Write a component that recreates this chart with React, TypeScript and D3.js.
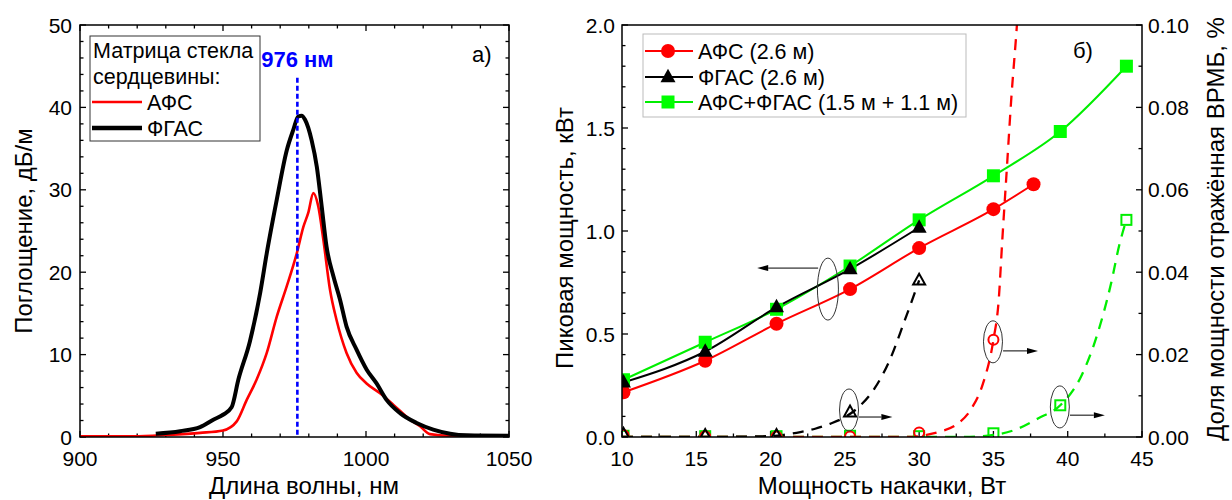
import React from "react";
import * as d3 from "d3";

// ---------- Panel a) absorption spectra ----------
const wavelengthAFS = [900, 918.6, 930.3, 942, 950, 954.8, 958.3, 961.8, 965.3, 968.8, 972.3, 975.8, 978.1, 979.8, 981.6, 983.3, 985.1, 987.4, 989.7, 993.2, 996.7, 1000.2, 1004.9, 1009.6, 1015.4, 1018.9, 1022.4, 1029.4, 1050];
const absorptionAFS = [0.1, 0.1, 0.25, 0.5, 0.8, 1.9, 4.5, 7, 10.2, 14.6, 18.3, 22.3, 25.5, 27.2, 29.6, 28, 23.9, 17.9, 14.2, 10.2, 7.8, 6.5, 5.3, 3.9, 2.1, 1.3, 0.35, 0.15, 0.1];
const wavelengthFGAS = [926.5, 935, 942, 946.6, 950, 953, 955.4, 959.4, 963, 965.3, 968.8, 972.3, 974.6, 976.3, 977.5, 978.7, 981, 982.8, 984.5, 986.2, 988.6, 990.9, 993.2, 996.7, 1000.2, 1003.7, 1007.2, 1011.9, 1017.7, 1023.5, 1029.4, 1035.2, 1050];
const absorptionFGAS = [0.4, 0.7, 1.2, 2.1, 2.7, 3.6, 7, 11.6, 17.5, 22.3, 28.8, 34.8, 37.3, 38.9, 39, 38.5, 36, 32.8, 28, 23.1, 19.5, 16.7, 13.4, 10.6, 8.2, 6.5, 4.5, 2.9, 1.7, 0.9, 0.4, 0.2, 0.15];
const markerWavelength = 976;
const markerTop = 43.6;
const xTicksA = [900, 950, 1000, 1050];
const yTicksA = [0, 10, 20, 30, 40, 50];

// ---------- Panel б) peak power & SBS ----------
const pumpAFS = [10.1, 15.6, 20.4, 25.35, 30.0, 35.0, 37.7];
const peakAFS = [0.217, 0.37, 0.55, 0.718, 0.917, 1.106, 1.227];
const pumpFGAS = [10.1, 15.6, 20.4, 25.35, 30.0];
const peakFGAS = [0.265, 0.415, 0.63, 0.815, 1.017];
const pumpMix = [10.1, 15.6, 20.4, 25.35, 30.0, 35.0, 39.5, 43.95];
const peakMix = [0.278, 0.46, 0.62, 0.83, 1.054, 1.268, 1.483, 1.8];

const sbsAFS = [0.0005, 0.0002, 0.0001, 0.0001, 0.0011, 0.0236];
const sbsFGAS = [0.0006, 0.0003, 0.0003, 0.006, 0.038];
const sbsMix = [0.0003, 0.0002, 0.0002, 0.0003, 0.0002, 0.0009, 0.0077, 0.0527];

const fitFGASx = [10, 15, 20, 21, 22, 23, 24, 25, 26, 27, 28, 29, 30];
const fitFGASy = [0, 0, 0.0002, 0.0006, 0.0012, 0.002, 0.0032, 0.0048, 0.0075, 0.0118, 0.0185, 0.028, 0.038];
const fitAFSx = [10, 20, 29.5, 30.5, 31.5, 32.5, 33.5, 34.3, 35, 35.35, 35.6, 35.9, 36.2, 36.6, 37];
const fitAFSy = [0, 0, 0, 0.0005, 0.0014, 0.003, 0.0068, 0.013, 0.0236, 0.033, 0.048, 0.065, 0.082, 0.101, 0.125];
const fitMixx = [10, 30, 33, 35, 36.5, 38, 39.5, 40.9, 42, 42.9, 43.5, 43.95];
const fitMixy = [0, 0, 0, 0.0005, 0.0018, 0.0045, 0.0077, 0.0147, 0.025, 0.037, 0.047, 0.0527];

const xTicksB = [10, 15, 20, 25, 30, 35, 40, 45];
const yTicksB = [0, 0.5, 1.0, 1.5, 2.0];
const y2TicksB = [0, 0.02, 0.04, 0.06, 0.08, 0.1];

// annotation anchors (data units)
const ellipseLeft = { x: 23.86, y: 0.718 }; // kW axis
const ellipsesRight = [
  { x: 25.28, y: 0.00655 },
  { x: 34.97, y: 0.0231 },
  { x: 39.47, y: 0.0073 },
];
const arrowLeft = { x1: 23.2, x2: 19.1, y: 0.82 };
const arrowsRight = [
  { x1: 25.95, x2: 28.2, y: 0.00485 },
  { x1: 35.65, x2: 38.0, y: 0.0209 },
  { x1: 40.15, x2: 42.5, y: 0.0053 },
];

const FONT = "'Liberation Sans', Arial, sans-serif";
const RED = "#ff0000";
const GREEN = "#00ee00";
const GREENM = "#00ff00";
const TICKFS = 21;
const LABFS = 24;
const LEGFS = 21.5;

function Triangle({ x, y, s, fill, stroke, sw }: any) {
  const h = s * 0.9;
  const pts = `${x},${y - h * 0.62} ${x - s / 2},${y + h * 0.38} ${x + s / 2},${y + h * 0.38}`;
  return <polygon points={pts} fill={fill} stroke={stroke} strokeWidth={sw} />;
}

function Arrow({ x1, x2, y }: any) {
  const dir = x2 > x1 ? 1 : -1;
  const head = 11;
  return (
    <g>
      <line x1={x1} y1={y} x2={x2 - dir * head} y2={y} stroke="#000" strokeWidth={1} />
      <polygon points={`${x2},${y} ${x2 - dir * head},${y - 3} ${x2 - dir * head},${y + 3}`} fill="#000" />
    </g>
  );
}

export default function App() {
  const xA = d3.scaleLinear().domain([900, 1050]).range([80, 509]);
  const yA = d3.scaleLinear().domain([0, 50]).range([437, 25]);
  const xB = d3.scaleLinear().domain([10, 45]).range([622, 1142]);
  const yB = d3.scaleLinear().domain([0, 2]).range([437, 25]);
  const yB2 = d3.scaleLinear().domain([0, 0.1]).range([437, 25]);

  const specLine = d3.line<[number, number]>().x(d => xA(d[0])).y(d => yA(d[1])).curve(d3.curveMonotoneX);
  const pathAFS = specLine(wavelengthAFS.map((w, i) => [w, absorptionAFS[i]] as [number, number]));
  const pathFGAS = specLine(wavelengthFGAS.map((w, i) => [w, absorptionFGAS[i]] as [number, number]));

  const mkLine = (ys: any) => d3.line<[number, number]>().x(d => xB(d[0])).y(d => ys(d[1])).curve(d3.curveMonotoneX);
  const solid = mkLine(yB);
  const dashed = mkLine(yB2);

  const zip = (a: number[], b: number[]) => a.map((v, i) => [v, b[i]] as [number, number]);

  const minorXA = d3.range(900, 1050.1, 10);
  const minorYA = d3.range(0, 50.1, 2);
  const minorXB = d3.range(10, 45.1, 2.5);
  const minorYB = d3.range(0, 2.001, 0.1);
  const minorY2B = d3.range(0, 0.1001, 0.01);

  const tickStyle = { stroke: "#000", strokeWidth: 1.3 };
  const isMajor = (v: number, step: number) => Math.abs(v / step - Math.round(v / step)) < 1e-6;

  return (
    <svg width={1232} height={500} style={{ position: "fixed", left: 0, top: 0, background: "#fff" }} fontFamily={FONT}>
      <defs>
        <clipPath id="clipB">
          <rect x={622} y={25} width={520} height={412} />
        </clipPath>
        <clipPath id="clipA">
          <rect x={80} y={25} width={429} height={412} />
        </clipPath>
      </defs>
      <rect x={0} y={0} width={1232} height={500} fill="#fff" />

      {/* ================= Panel a ================= */}
      <g>
        {minorXA.map(v => {
          const L = isMajor(v, 50) ? 6 : 3.5;
          return (
            <g key={"xa" + v}>
              <line x1={xA(v)} x2={xA(v)} y1={437} y2={437 - L} {...tickStyle} />
              <line x1={xA(v)} x2={xA(v)} y1={25} y2={25 + L} {...tickStyle} />
            </g>
          );
        })}
        {minorYA.map(v => {
          const L = isMajor(v, 10) ? 6 : 3.5;
          return (
            <g key={"ya" + v}>
              <line x1={80} x2={80 + L} y1={yA(v)} y2={yA(v)} {...tickStyle} />
              <line x1={509} x2={509 - L} y1={yA(v)} y2={yA(v)} {...tickStyle} />
            </g>
          );
        })}
        {xTicksA.map(v => (
          <text key={"xla" + v} x={xA(v)} y={466} fontSize={TICKFS} textAnchor="middle">{v}</text>
        ))}
        {yTicksA.map(v => (
          <text key={"yla" + v} x={72} y={yA(v)} dy="0.36em" fontSize={TICKFS} textAnchor="end">{v}</text>
        ))}

        <g clipPath="url(#clipA)">
          <path d={pathAFS || ""} fill="none" stroke={RED} strokeWidth={2.6} strokeLinejoin="round" />
          <path d={pathFGAS || ""} fill="none" stroke="#000" strokeWidth={4} strokeLinejoin="round" />
          <line x1={xA(markerWavelength)} x2={xA(markerWavelength)} y1={yA(markerTop)} y2={yA(0)} stroke="#0000ff" strokeWidth={2.6} strokeDasharray="5,3" />
        </g>
        <rect x={80} y={25} width={429} height={412} fill="none" stroke="#000" strokeWidth={1.5} />

        <text x={xA(markerWavelength)} y={67} fontSize={22} fontWeight="bold" fill="#0000ff" textAnchor="middle">976 нм</text>
        <text x={472} y={62} fontSize={22}>а)</text>

        {/* legend */}
        <rect x={90} y={36} width={170} height={105} fill="#fff" stroke="#333" strokeWidth={1} />
        <text x={93} y={58} fontSize={LEGFS}>Матрица стекла</text>
        <text x={93} y={84} fontSize={LEGFS}>сердцевины:</text>
        <line x1={92} x2={142} y1={102} y2={102} stroke={RED} strokeWidth={2.6} />
        <text x={147} y={110} fontSize={LEGFS}>АФС</text>
        <line x1={92} x2={142} y1={128} y2={128} stroke="#000" strokeWidth={4.5} />
        <text x={147} y={136} fontSize={LEGFS}>ФГАС</text>

        <text x={304} y={494} fontSize={LABFS} textAnchor="middle">Длина волны, нм</text>
        <text transform="translate(32,231) rotate(-90)" fontSize={LABFS} textAnchor="middle">Поглощение, дБ/м</text>
      </g>

      {/* ================= Panel b ================= */}
      <g>
        {minorXB.map(v => {
          const L = isMajor(v, 5) ? 6 : 3.5;
          return <line key={"xb" + v} x1={xB(v)} x2={xB(v)} y1={437} y2={437 - L} {...tickStyle} />;
        })}
        {minorYB.map(v => {
          const L = isMajor(v, 0.5) ? 6 : 3.5;
          return <line key={"yb" + v} x1={622} x2={622 + L} y1={yB(v)} y2={yB(v)} {...tickStyle} />;
        })}
        {minorY2B.map(v => {
          const L = isMajor(v, 0.02) ? 6 : 3.5;
          return <line key={"y2b" + v} x1={1142} x2={1142 - L} y1={yB2(v)} y2={yB2(v)} {...tickStyle} />;
        })}
        {xTicksB.map(v => (
          <text key={"xlb" + v} x={xB(v)} y={466} fontSize={TICKFS} textAnchor="middle">{v}</text>
        ))}
        {yTicksB.map(v => (
          <text key={"ylb" + v} x={615} y={yB(v)} dy="0.36em" fontSize={TICKFS} textAnchor="end">{v.toFixed(1)}</text>
        ))}
        {y2TicksB.map(v => (
          <text key={"y2lb" + v} x={1148} y={yB2(v)} dy="0.36em" fontSize={TICKFS} textAnchor="start">{v.toFixed(2)}</text>
        ))}

        <g clipPath="url(#clipB)">
          <path d={dashed(zip(fitMixx, fitMixy)) || ""} fill="none" stroke={GREEN} strokeWidth={2.3} strokeDasharray="11,8" />
          <path d={dashed(zip(fitAFSx, fitAFSy)) || ""} fill="none" stroke={RED} strokeWidth={2.3} strokeDasharray="11,8" />
          <path d={dashed(zip(fitFGASx, fitFGASy)) || ""} fill="none" stroke="#000" strokeWidth={2.3} strokeDasharray="11,8" />

          {pumpMix.map((p, i) => (
            <rect key={"om" + i} x={xB(p) - 5} y={yB2(sbsMix[i]) - 5} width={10} height={10} fill="none" stroke={GREEN} strokeWidth={2} />
          ))}
          {sbsAFS.map((v, i) => (
            <circle key={"oa" + i} cx={xB(pumpAFS[i])} cy={yB2(v)} r={5} fill="none" stroke={RED} strokeWidth={2} />
          ))}
          {sbsFGAS.map((v, i) => (
            <Triangle key={"of" + i} x={xB(pumpFGAS[i])} y={yB2(v)} s={12} fill="none" stroke="#000" sw={2} />
          ))}

          <path d={solid(zip(pumpMix, peakMix)) || ""} fill="none" stroke={GREEN} strokeWidth={2} />
          <path d={solid(zip(pumpAFS, peakAFS)) || ""} fill="none" stroke={RED} strokeWidth={2} />
          <path d={solid(zip(pumpFGAS, peakFGAS)) || ""} fill="none" stroke="#000" strokeWidth={2} />

          {pumpMix.map((p, i) => (
            <rect key={"sm" + i} x={xB(p) - 6.5} y={yB(peakMix[i]) - 6.5} width={13} height={13} fill={GREENM} />
          ))}
          {pumpAFS.map((p, i) => (
            <circle key={"sa" + i} cx={xB(p)} cy={yB(peakAFS[i])} r={7} fill={RED} />
          ))}
          {pumpFGAS.map((p, i) => (
            <Triangle key={"sf" + i} x={xB(p)} y={yB(peakFGAS[i])} s={15} fill="#000" stroke="none" sw={0} />
          ))}
        </g>

        <rect x={622} y={25} width={520} height={412} fill="none" stroke="#000" strokeWidth={1.5} />

        <ellipse cx={xB(ellipseLeft.x)} cy={yB(ellipseLeft.y)} rx={10.5} ry={31} fill="none" stroke="#333" strokeWidth={1} />
        <Arrow x1={xB(arrowLeft.x1)} x2={xB(arrowLeft.x2)} y={yB(arrowLeft.y)} />
        {ellipsesRight.map((e, i) => (
          <ellipse key={"el" + i} cx={xB(e.x)} cy={yB2(e.y)} rx={9.5} ry={21} fill="none" stroke="#333" strokeWidth={1} />
        ))}
        {arrowsRight.map((a, i) => (
          <Arrow key={"ar" + i} x1={xB(a.x1)} x2={xB(a.x2)} y={yB2(a.y)} />
        ))}

        <text x={1073} y={58} fontSize={22}>б)</text>

        <rect x={643} y={34} width={323} height={83} fill="#fff" stroke="#bbb" strokeWidth={1} />
        <line x1={645} x2={693} y1={51} y2={51} stroke={RED} strokeWidth={2} />
        <circle cx={668} cy={51} r={7} fill={RED} />
        <text x={698} y={58.5} fontSize={LEGFS}>АФС (2.6 м)</text>
        <line x1={645} x2={693} y1={77} y2={77} stroke="#000" strokeWidth={2} />
        <Triangle x={668} y={77} s={15} fill="#000" stroke="none" sw={0} />
        <text x={698} y={84.5} fontSize={LEGFS}>ФГАС (2.6 м)</text>
        <line x1={645} x2={693} y1={102} y2={102} stroke={GREEN} strokeWidth={2} />
        <rect x={661.5} y={95.5} width={13} height={13} fill={GREENM} />
        <text x={698} y={109.5} fontSize={LEGFS}>АФС+ФГАС (1.5 м + 1.1 м)</text>

        <text x={882} y={494} fontSize={LABFS} textAnchor="middle">Мощность накачки, Вт</text>
        <text transform="translate(573,238) rotate(-90)" fontSize={LABFS} textAnchor="middle">Пиковая мощность, кВт</text>
        <text transform="translate(1224,229) rotate(-90)" fontSize={LABFS} textAnchor="middle">Доля мощности отражённая ВРМБ, %</text>
      </g>
    </svg>
  );
}
